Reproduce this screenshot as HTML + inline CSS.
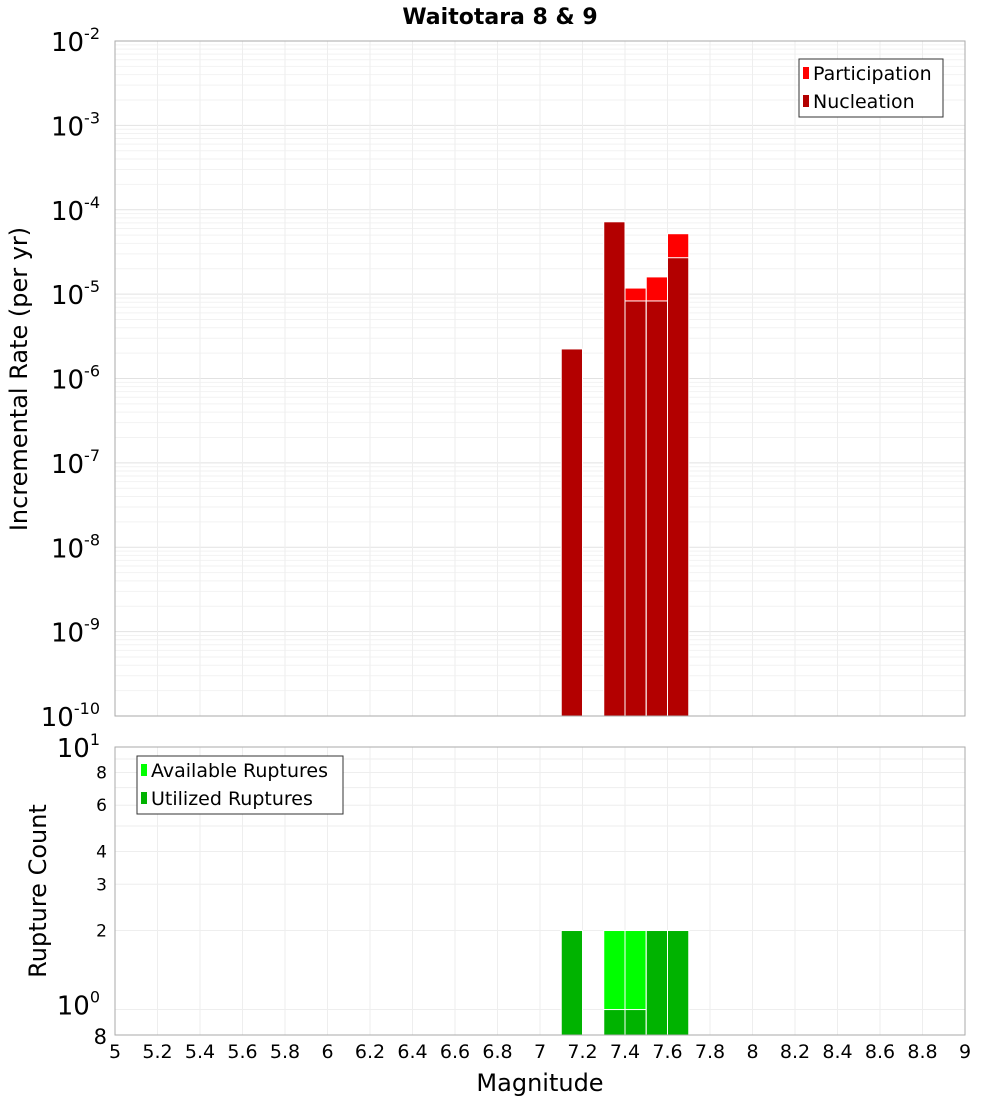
<!DOCTYPE html>
<html><head><meta charset="utf-8"><style>
body{margin:0;background:#fff;font-family:"Liberation Sans","DejaVu Sans",sans-serif}
svg text{font-family:"DejaVu Sans","Liberation Sans",sans-serif}
</style></head><body>
<svg id="c" width="1000" height="1100" xmlns="http://www.w3.org/2000/svg">
<text x="500" y="24" text-anchor="middle" font-size="22" font-weight="bold">Waitotara 8 &amp; 9</text>
<text transform="translate(27,379) rotate(-90)" text-anchor="middle" font-size="24">Incremental Rate (per yr)</text>
<text transform="translate(46,891) rotate(-90)" text-anchor="middle" font-size="24">Rupture Count</text>
<text x="540" y="1091" text-anchor="middle" font-size="24">Magnitude</text>
<g id="g"></g>
</svg>
<script>
const mags=[7.15,7.35,7.45,7.55,7.65];
const participation=[2.24e-6,7.2e-5,1.18e-5,1.6e-5,5.2e-5];
const nucleation=[2.24e-6,7.2e-5,8.3e-6,8.3e-6,2.7e-5];
const available=[2,2,2,2,2];
const utilized=[2,1,1,2,2];
const xTicks=[5,5.2,5.4,5.6,5.8,6,6.2,6.4,6.6,6.8,7,7.2,7.4,7.6,7.8,8,8.2,8.4,8.6,8.8,9];
const topExps=[-2,-3,-4,-5,-6,-7,-8,-9,-10];
const botTicks=[8,6,4,3,2];

const NS='http://www.w3.org/2000/svg';
const g=document.getElementById('g');
function el(t,a,p){const e=document.createElementNS(NS,t);for(const k in a)e.setAttribute(k,a[k]);(p||g).appendChild(e);return e;}
const X0=115,X1=965;
const xs=m=>X0+(m-5)/4*(X1-X0);
const T0=41,T1=716;
const yTop=v=>T0+(-2-Math.log10(v))*(T1-T0)/8;
const B0=747,B1=1035,bd=(B1-B0)/(1-Math.log10(0.8));
const yBot=v=>B0+(1-Math.log10(v))*bd;

for(let d=-10;d<-2;d++)for(let k=1;k<10;k++){const y=yTop(k*Math.pow(10,d));
const l=el('line',{x1:X0,x2:X1,y1:y,y2:y,stroke:k==1?'#e2e2e2':'#f2f2f2','stroke-width':1});
}
[1,2,3,4,5,6,7,8,9,10].forEach(v=>{const y=yBot(v);
const l=el('line',{x1:X0,x2:X1,y1:y,y2:y,stroke:'#eeeeee'});
});
xTicks.forEach(m=>{const x=xs(m);
[[T0,T1],[B0,B1]].forEach(r=>{const l=el('line',{x1:x,x2:x,y1:r[0],y2:r[1],stroke:'#eeeeee'});
});
const t=el('text',{x:x,y:1058,'text-anchor':'middle','font-size':19});t.textContent=String(m);
});

const bw=(X1-X0)/40;
mags.forEach((m,i)=>{const x=xs(m)-bw/2;
let y=yTop(participation[i]);let r=el('rect',{x:x,y:y,width:bw,height:T1-y,fill:'#ff0000',stroke:'#fff','stroke-width':1});

y=yTop(nucleation[i]);r=el('rect',{x:x,y:y,width:bw,height:T1-y,fill:'#b30000',stroke:'#fff','stroke-width':1});

y=yBot(available[i]);r=el('rect',{x:x,y:y,width:bw,height:B1-y,fill:'#00ff00',stroke:'#fff','stroke-width':1});

y=yBot(utilized[i]);r=el('rect',{x:x,y:y,width:bw,height:B1-y,fill:'#00b300',stroke:'#fff','stroke-width':1});
});

[[T0,T1],[B0,B1]].forEach(r=>{const f=el('rect',{x:X0,y:r[0],width:X1-X0,height:r[1]-r[0],fill:'none',stroke:'#aaa'});
});

topExps.forEach(e=>{const y=yTop(Math.pow(10,e));
const t=el('text',{x:100,y:y+10,'text-anchor':'end','font-size':26});

t.appendChild(document.createTextNode('10'));
const s=el('tspan',{dy:-12,'font-size':16},t);s.textContent=String(e);});
function sup(y,e,nm){const t=el('text',{x:100,y:y+10,'text-anchor':'end','font-size':26});

t.appendChild(document.createTextNode('10'));const s=el('tspan',{dy:-12,'font-size':16},t);s.textContent=e;}
sup(yBot(10),'1','y-tick-label-bottom');sup(yBot(1)-5,'0','y-tick-label-bottom');
botTicks.forEach(v=>{const t=el('text',{x:107,y:yBot(v)+6,'text-anchor':'end','font-size':17});t.textContent=String(v);
});
{const t=el('text',{x:107,y:B1+9,'text-anchor':'end','font-size':21});t.textContent='8';
}

function legend(x,y,w,items,nm){const lg=el('g',{});
el('rect',{x:x,y:y,width:w,height:items.length*28+2,fill:'#fff',stroke:'#333'},lg);
items.forEach((it,i)=>{const yy=y+16+i*28;
const sw=el('rect',{x:x+4,y:yy-8,width:6,height:12,fill:it[1]},lg);

const t=el('text',{x:x+14,y:yy+5,'font-size':19},lg);t.textContent=it[0];
});}
legend(799,59,144,[['Participation','#ff0000'],['Nucleation','#b30000']],'legend-top');
legend(137,756,206,[['Available Ruptures','#00ff00'],['Utilized Ruptures','#00b300']],'legend-bottom');
</script>
</body></html>
